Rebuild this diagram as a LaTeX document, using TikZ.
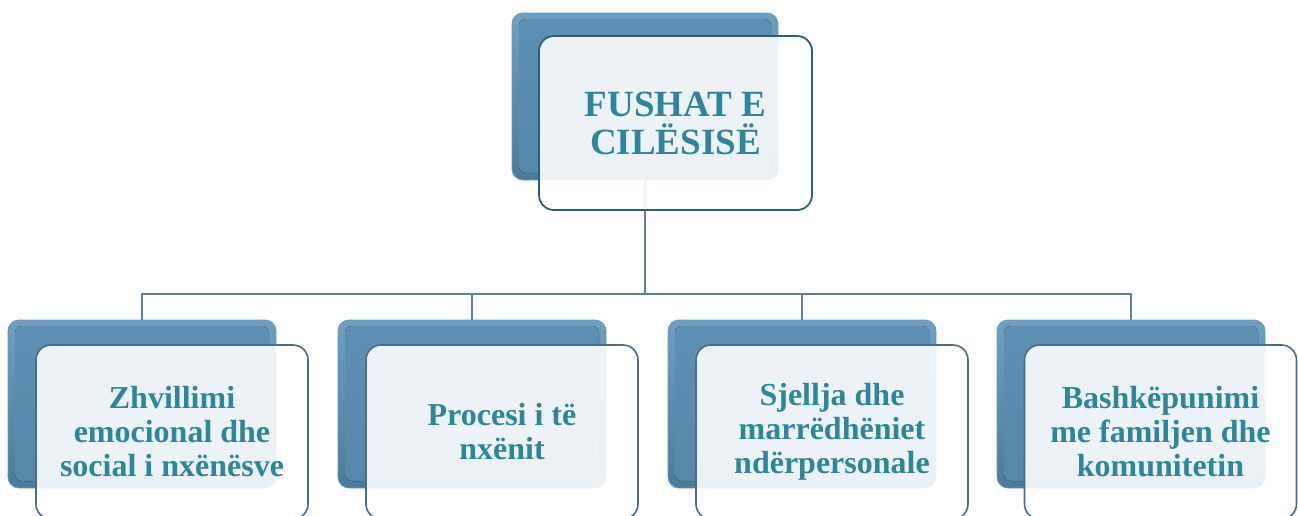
\documentclass[tikz,border=0pt]{standalone}
\usepackage{fontspec}
\setmainfont{Liberation Serif}
\definecolor{outtop}{HTML}{6E9FC1}
\definecolor{outbot}{HTML}{4C7B9A}
\definecolor{backtop}{HTML}{5E90B3}
\definecolor{backbot}{HTML}{5687A9}
\definecolor{backline}{HTML}{6A98B6}
\definecolor{frontline}{HTML}{2B5E7E}
\definecolor{frontline2}{HTML}{4D6C8A}
\definecolor{txtcol}{HTML}{2F8599}
\definecolor{conn}{HTML}{5F7F9B}
\tikzset{
  backbox/.style={rectangle, rounded corners=11pt, top color=outtop, bottom color=outbot,
     draw=backline, line width=0.8pt, inner sep=0pt, outer sep=0pt,
     path picture={\fill[rounded corners=7pt, top color=backtop, bottom color=backbot]
        ([xshift=7pt,yshift=-6pt]path picture bounding box.north west) rectangle
        ([xshift=-7pt,yshift=7pt]path picture bounding box.south east);}},
  frontbox/.style={rectangle, rounded corners=15pt, fill=white, fill opacity=0.89, text opacity=1,
     draw=frontline2, draw opacity=1, line width=1.6pt, inner sep=0pt, outer sep=0pt,
     text=txtcol, align=center, font=\bfseries},
  topback/.style={backbox, minimum width=266pt, minimum height=167pt},
  topfront/.style={frontbox, draw=frontline, line width=1.8pt, minimum width=273pt, minimum height=174pt,
     font=\bfseries\fontsize{37pt}{38pt}\selectfont},
  subback/.style={backbox, minimum width=268pt, minimum height=168pt},
  subfront/.style={frontbox, minimum width=272pt, minimum height=174pt,
     font=\bfseries\fontsize{32pt}{34pt}\selectfont},
  connector/.style={draw=conn, line width=2.2pt}
}
\begin{document}
\begin{tikzpicture}[x=1pt,y=-1pt]
\useasboundingbox (0,0) rectangle (1298,515);
% connectors (under the boxes)
\coordinate (bus) at (645,294);
\coordinate (tbs) at (645,180);
\coordinate (b1n) at (142,320);
\coordinate (b2n) at (472,320);
\coordinate (b3n) at (802,320);
\coordinate (b4n) at (1131,320);
\draw[connector] (tbs) -- (bus);
\draw[connector] (b1n) |- (bus);
\draw[connector] (b4n) |- (bus);
\draw[connector] (b2n) -- (b2n |- bus);
\draw[connector] (b3n) -- (b3n |- bus);
% back boxes
\node[topback] (tb) at (645,96.5) {};
\node[subback] (b1) at (142,404) {};
\node[subback] (b2) at (472,404) {};
\node[subback] (b3) at (802,404) {};
\node[subback] (b4) at (1131,404) {};
% front boxes
\node[topfront] (tf) at (675.5,123) {FUSHAT E\\CILËSISË};
\node[subfront] (f1) at (172,432) {Zhvillimi\\emocional dhe\\social i nxënësve};
\node[subfront] (f2) at (502,432) {Procesi i të\\nxënit};
\node[subfront] (f3) at (832,432) {Sjellja dhe\\marrëdhëniet\\ndërpersonale};
\node[subfront] (f4) at (1160.5,432) {Bashkëpunimi\\me familjen dhe\\komunitetin};
\end{tikzpicture}
\end{document}
